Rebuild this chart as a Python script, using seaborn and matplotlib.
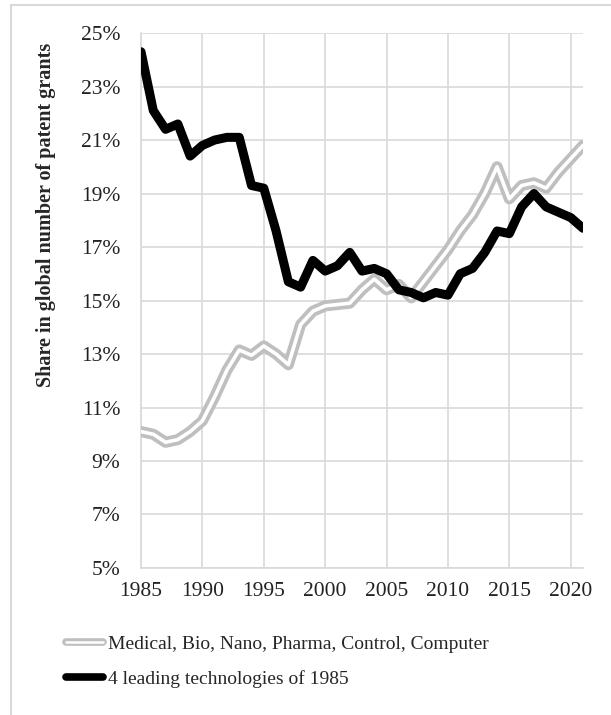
import numpy as np
import pandas as pd
import matplotlib
matplotlib.use("Agg")
import matplotlib.pyplot as plt
import seaborn as sns
from matplotlib.lines import Line2D
from matplotlib.legend_handler import HandlerBase

years = list(range(1985, 2022))

# share (%) of the new fields: Medical, Bio, Nano, Pharma, Control, Computer
new_fields = [10.1, 10.0, 9.7, 9.8, 10.1, 10.5, 11.4, 12.4, 13.15, 12.95,
              13.3, 13.0, 12.6, 14.1, 14.6, 14.8, 14.85, 14.9, 15.4, 15.8,
              15.4, 15.6, 15.1, 15.7, 16.3, 16.9, 17.6, 18.2, 19.0, 20.0,
              18.8, 19.3, 19.4, 19.2, 19.8, 20.3, 20.8]

# share (%) of the 4 leading technologies of 1985
leading_1985 = [24.3, 22.1, 21.4, 21.6, 20.4, 20.8, 21.0, 21.1, 21.1, 19.3,
                19.2, 17.6, 15.7, 15.5, 16.5, 16.1, 16.3, 16.8, 16.1, 16.2,
                16.0, 15.4, 15.3, 15.1, 15.3, 15.2, 16.0, 16.2, 16.8, 17.6,
                17.5, 18.5, 19.0, 18.5, 18.3, 18.1, 17.7]

label_new = "Medical, Bio, Nano, Pharma, Control, Computer"
label_old = "4 leading technologies of 1985"

df = pd.DataFrame({"year": years, "new": new_fields, "old": leading_1985})

sns.set_style("white")
plt.rcParams["font.family"] = ["Liberation Serif", "DejaVu Serif"]

fig = plt.figure(figsize=(6.11, 7.15), dpi=100)
ax = fig.add_axes([0.2308, 0.2056, 0.7234, 0.7482])

# double gray line: thick gray with white core
sns.lineplot(data=df, x="year", y="new", ax=ax, color="#bfbfbf", linewidth=8,
             solid_joinstyle="round", solid_capstyle="round", zorder=3)
sns.lineplot(data=df, x="year", y="new", ax=ax, color="white", linewidth=2.6,
             solid_joinstyle="round", solid_capstyle="round", zorder=4)
sns.lineplot(data=df, x="year", y="old", ax=ax, color="black", linewidth=6.5,
             solid_joinstyle="round", solid_capstyle="round", zorder=5)

ax.set_xlim(1985, 2021)
ax.set_ylim(5, 25)
ax.set_xticks(range(1985, 2021, 5))
ax.set_yticks(range(5, 26, 2))
ax.set_yticklabels([f"{v}%" for v in range(5, 26, 2)])
ax.grid(True, color="#d9d9d9", linewidth=1.2)
ax.set_axisbelow(True)
for s in ["top", "right"]:
    ax.spines[s].set_visible(False)
for s in ["left", "bottom"]:
    ax.spines[s].set_color("#d9d9d9")
    ax.spines[s].set_linewidth(1.2)
ax.tick_params(axis="y", length=0, labelsize=15.5, colors="#222222", pad=15)
ax.tick_params(axis="x", length=0, labelsize=15.5, colors="#222222", pad=10)
ax.set_xlabel("")
ax.set_ylabel("Share in global number of patent grants", fontsize=14.5,
              fontweight="bold")
ax.yaxis.set_label_coords((56 - 141) / 442, 0.66)


class DoubleLine(HandlerBase):
    def create_artists(self, legend, orig, xd, yd, w, h, fs, trans):
        y = yd + h / 2
        a = Line2D([xd + 3, xd + w - 3], [y, y], color="#bfbfbf", lw=5.5,
                   solid_capstyle="round", transform=trans)
        b = Line2D([xd + 3, xd + w - 3], [y, y], color="white", lw=1.8,
                   solid_capstyle="round", transform=trans)
        return [a, b]


class SolidLine(HandlerBase):
    def create_artists(self, legend, orig, xd, yd, w, h, fs, trans):
        y = yd + h / 2
        a = Line2D([xd + 3, xd + w - 3], [y, y], color="black", lw=5.5,
                   solid_capstyle="round", transform=trans)
        return [a]


h_new = Line2D([], [], color="#bfbfbf")
h_old = Line2D([], [], color="black")
fig.legend([h_new, h_old], [label_new, label_old],
           handler_map={h_new: DoubleLine(), h_old: SolidLine()},
           loc="upper left", bbox_to_anchor=(62 / 611, 1 - 635 / 715), frameon=False,
           fontsize=14, handlelength=2.3, handletextpad=0.05, labelspacing=0.9,
           borderaxespad=0, borderpad=0)

# light outer frame of the original figure
fig.add_artist(Line2D([11 / 611, 11 / 611], [0, 1 - 5 / 715], color="#d9d9d9",
                      lw=1.5, transform=fig.transFigure))
fig.add_artist(Line2D([11 / 611, 1], [1 - 5 / 715, 1 - 5 / 715], color="#d9d9d9",
                      lw=1.5, transform=fig.transFigure))

fig.savefig("out.png", dpi=100)
